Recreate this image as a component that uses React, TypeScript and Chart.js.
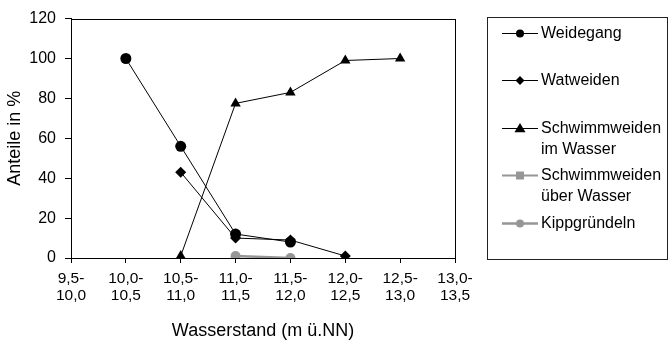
import React, { useEffect, useRef } from "react";
import { Chart, registerables } from "chart.js";

Chart.register(...registerables);

const categories: string[][] = [
  ["9,5-", "10,0"],
  ["10,0-", "10,5"],
  ["10,5-", "11,0"],
  ["11,0-", "11,5"],
  ["11,5-", "12,0"],
  ["12,0-", "12,5"],
  ["12,5-", "13,0"],
  ["13,0-", "13,5"],
];

const weidegang = [null, 100, 56, 12, 8, null, null, null];
const watweiden = [null, null, 43, 10, 9, 1, null, null];
const schwimmImWasser = [null, null, 1, 77.5, 83, 99, 100, null];
const schwimmUeberWasser = [null, null, null, null, null, null, null, null];
const kippgruendeln = [null, null, null, 1, 0, null, null, null];

const yTicks = [0, 20, 40, 60, 80, 100, 120];

const FONT = '"Liberation Sans", Arial, Helvetica, sans-serif';

const legendItems = [
  { label: ["Weidegang"], y: 33 },
  { label: ["Watweiden"], y: 80 },
  { label: ["Schwimmweiden", "im Wasser"], y: 128 },
  { label: ["Schwimmweiden", "über Wasser"], y: 175 },
  { label: ["Kippgründeln"], y: 223 },
];

const frameAndLegend = {
  id: "frameAndLegend",
  afterDraw(chart: any) {
    const ctx = chart.ctx;
    const a = chart.chartArea;
    ctx.save();
    ctx.strokeStyle = "#000";
    ctx.lineWidth = 1;
    ctx.strokeRect(Math.round(a.left) + 0.5, Math.round(a.top) + 0.5, Math.round(a.right - a.left), Math.round(a.bottom - a.top));
    // legend box
    ctx.strokeStyle = "#222";
    ctx.strokeRect(487.5, 17.5, 180, 242);
    ctx.font = "16px " + FONT;
    ctx.textBaseline = "middle";
    ctx.textAlign = "left";
    const ds = chart.data.datasets;
    legendItems.forEach((it, i) => {
      const d = ds[i];
      const y = it.y;
      ctx.strokeStyle = d.borderColor;
      ctx.lineWidth = d.borderWidth;
      ctx.beginPath();
      ctx.moveTo(502, y + 0.5);
      ctx.lineTo(538, y + 0.5);
      ctx.stroke();
      ctx.fillStyle = d.pointBackgroundColor;
      const cx = 520;
      const cy = y + 0.5;
      const st = d.pointStyle;
      ctx.beginPath();
      if (st === "circle") {
        ctx.arc(cx, cy, d.legendR, 0, Math.PI * 2);
      } else if (st === "rectRot") {
        const r = d.legendR;
        ctx.moveTo(cx, cy - r);
        ctx.lineTo(cx + r, cy);
        ctx.lineTo(cx, cy + r);
        ctx.lineTo(cx - r, cy);
        ctx.closePath();
      } else if (st === "triangle") {
        const r = d.legendR;
        ctx.moveTo(cx, cy - r);
        ctx.lineTo(cx + r, cy + r * 0.7);
        ctx.lineTo(cx - r, cy + r * 0.7);
        ctx.closePath();
      } else if (st === "rect") {
        const r = d.legendR;
        ctx.rect(cx - r, cy - r, 2 * r, 2 * r);
      }
      ctx.fill();
      ctx.fillStyle = "#000";
      it.label.forEach((line, j) => {
        ctx.fillText(line, 541, y + 1 + j * 21);
      });
    });
    ctx.restore();
  },
};

export default function App() {
  const ref = useRef<HTMLCanvasElement | null>(null);
  useEffect(() => {
    if (!ref.current) return;
    const black = "#000000";
    const gray = "#969696";
    const chart = new Chart(ref.current, {
      type: "line",
      data: {
        labels: categories as any,
        datasets: [
          {
            label: "Weidegang",
            data: weidegang,
            borderColor: black,
            backgroundColor: black,
            pointBackgroundColor: black,
            pointBorderColor: black,
            borderWidth: 1,
            pointStyle: "circle",
            pointRadius: 5.5,
            pointBorderWidth: 0,
            legendR: 4,
          } as any,
          {
            label: "Watweiden",
            data: watweiden,
            borderColor: black,
            backgroundColor: black,
            pointBackgroundColor: black,
            pointBorderColor: black,
            borderWidth: 1,
            pointStyle: "rectRot",
            pointRadius: 5.5,
            pointBorderWidth: 0,
            legendR: 4.5,
          } as any,
          {
            label: "Schwimmweiden im Wasser",
            data: schwimmImWasser,
            borderColor: black,
            backgroundColor: black,
            pointBackgroundColor: black,
            pointBorderColor: black,
            borderWidth: 1,
            pointStyle: "triangle",
            pointRadius: 6,
            pointBorderWidth: 0,
            legendR: 5.5,
          } as any,
          {
            label: "Schwimmweiden über Wasser",
            data: schwimmUeberWasser,
            borderColor: gray,
            backgroundColor: gray,
            pointBackgroundColor: gray,
            pointBorderColor: gray,
            borderWidth: 2,
            pointStyle: "rect",
            pointRadius: 4.5,
            pointBorderWidth: 0,
            legendR: 4,
          } as any,
          {
            label: "Kippgründeln",
            data: kippgruendeln,
            borderColor: gray,
            backgroundColor: gray,
            pointBackgroundColor: gray,
            pointBorderColor: gray,
            borderWidth: 2.5,
            pointStyle: "circle",
            pointRadius: 5,
            pointBorderWidth: 0,
            legendR: 4,
          } as any,
        ],
      },
      options: {
        animation: false,
        responsive: false,
        maintainAspectRatio: false,
        spanGaps: false,
        layout: { padding: { left: 0, top: 15, right: 213, bottom: 0 } },
        plugins: {
          legend: { display: false },
          tooltip: { enabled: false },
        },
        scales: {
          x: {
            type: "category",
            offset: false,
            grid: {
              display: true,
              drawOnChartArea: false,
              drawTicks: true,
              tickLength: 5,
              color: black,
              offset: false,
            },
            border: { display: true, color: black, width: 1 },
            ticks: {
              color: black,
              font: { family: FONT, size: 15.5, lineHeight: 1.1 },
              padding: 7,
              maxRotation: 0,
              autoSkip: false,
            },
            title: {
              display: true,
              text: "Wasserstand (m ü.NN)",
              color: black,
              font: { family: FONT, size: 18 },
              padding: { top: 0, bottom: 0 },
            },
            afterFit: (s: any) => {
              s.height = 84;
            },
          },
          y: {
            min: 0,
            max: 120,
            afterBuildTicks: (s: any) => {
              s.ticks = yTicks.map((v) => ({ value: v }));
            },
            grid: {
              display: true,
              drawOnChartArea: false,
              drawTicks: true,
              tickLength: 6,
              color: black,
            },
            border: { display: true, color: black, width: 1 },
            ticks: {
              color: black,
              font: { family: FONT, size: 16 },
              padding: 9,
            },
            title: {
              display: true,
              text: "Anteile in %",
              color: black,
              font: { family: FONT, size: 18 },
              padding: { top: 4, bottom: 0 },
            },
            afterFit: (s: any) => {
              s.width = 71;
            },
          },
        },
      } as any,
      plugins: [frameAndLegend],
    });
    return () => chart.destroy();
  }, []);
  return (
    <div style={{ position: "fixed", left: 0, top: 0, width: 668, height: 342, background: "#fff" }}>
      <canvas ref={ref} width={668} height={342} style={{ width: 668, height: 342, display: "block" }} />
    </div>
  );
}
